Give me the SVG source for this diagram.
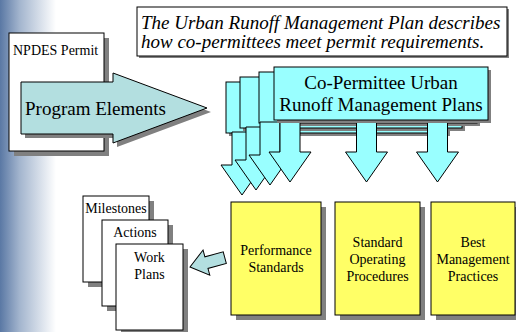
<svg xmlns="http://www.w3.org/2000/svg" width="516" height="332" viewBox="0 0 516 332" font-family="'Liberation Serif', 'DejaVu Serif', serif">
<defs>
<linearGradient id="bg" x1="0" y1="0" x2="1" y2="0">
<stop offset="0" stop-color="#5a78a4"/>
<stop offset="0.35" stop-color="#a3b5ce"/>
<stop offset="1" stop-color="#ffffff"/>
</linearGradient>
<style>
text{fill:#000}
.box{stroke:#000;stroke-width:1}
.shadow{fill:#808080}
.page{fill:#fff;stroke:#000;stroke-width:1}
.card{fill:#99ffff;stroke:#000;stroke-width:1}
.yel{fill:#ffff66;stroke:#000;stroke-width:1}
.teal{fill:#b3dfe0;stroke:#000;stroke-width:1}
.carrow{fill:#99ffff;stroke:#000;stroke-width:1;stroke-linejoin:miter}
.c{text-anchor:middle}
</style>
<path id="dn" d="M-10,0 V33 H-21 L0,63 L21,33 H10 V0 Z"/>
</defs>
<rect x="0" y="0" width="516" height="332" fill="#fff"/>
<rect x="0" y="0" width="56" height="332" fill="url(#bg)"/>

<g id="title">
<rect x="139" y="9" width="370" height="49" class="shadow"/>
<rect x="137" y="7" width="370" height="49" fill="#fff" class="box"/>
<text x="141" y="29" font-size="19" font-style="italic">The Urban Runoff Management Plan describes</text>
<text x="141" y="48" font-size="19" font-style="italic">how co-permittees meet permit requirements.</text>
</g>

<g id="npdes-permit">
<rect x="14" y="38" width="95" height="118" class="shadow"/>
<rect x="9" y="33" width="95" height="118" class="page"/>
<text x="13" y="55" font-size="14">NPDES Permit</text>
</g>

<g id="program-elements">
<path d="M25,86 H117 V77 L211,112 L117,147 V138 H25 Z" class="shadow"/>
<path d="M21,82 H113 V73 L207,108 L113,143 V134 H21 Z" class="teal"/>
<text x="25" y="115" font-size="19">Program Elements</text>
</g>

<g id="urmp-stack">
<g id="urmp-4">
<rect x="229" y="85" width="221" height="51" class="shadow"/>
<rect x="226" y="82" width="221" height="51" class="card"/>
<use href="#dn" x="242" y="132" class="carrow"/>
</g>
<g id="urmp-3">
<rect x="243" y="80" width="222" height="51" class="shadow"/>
<rect x="240" y="77" width="222" height="51" class="card"/>
<use href="#dn" x="256" y="127" class="carrow"/>
</g>
<g id="urmp-2">
<rect x="262" y="75" width="218" height="51" class="shadow"/>
<rect x="259" y="72" width="218" height="51" class="card"/>
<use href="#dn" x="270" y="122" class="carrow"/>
</g>
</g>

<g id="connectors">
<use href="#dn" x="290" y="119" class="carrow"/>
<use href="#dn" x="366.5" y="119" class="carrow"/>
<use href="#dn" x="437.5" y="119" class="carrow"/>
<path d="M0,0 L17,-13 L17,-6 L36,-6 L36,6 L17,6 L17,13 Z" transform="translate(190,267) rotate(-15)" class="teal"/>
</g>

<g id="urmp-1">
<rect x="277" y="70" width="214" height="53" class="shadow"/>
<rect x="274" y="67" width="214" height="53" class="card"/>
<text x="381" y="89" font-size="19" class="c">Co-Permittee Urban</text>
<text x="381" y="111" font-size="19" class="c">Runoff Management Plans</text>
</g>

<g id="performance-standards">
<rect x="236" y="207" width="90" height="113" class="shadow"/>
<rect x="231" y="202" width="90" height="113" class="yel"/>
<text x="276" y="255" font-size="14" class="c">Performance</text>
<text x="276" y="272" font-size="14" class="c">Standards</text>
</g>

<g id="standard-operating-procedures">
<rect x="340" y="207" width="85" height="113" class="shadow"/>
<rect x="335" y="202" width="85" height="113" class="yel"/>
<text x="377.5" y="247" font-size="14" class="c">Standard</text>
<text x="377.5" y="264" font-size="14" class="c">Operating</text>
<text x="377.5" y="281" font-size="14" class="c">Procedures</text>
</g>

<g id="best-management-practices">
<rect x="436" y="207" width="84" height="113" class="shadow"/>
<rect x="431" y="202" width="84" height="113" class="yel"/>
<text x="473" y="247" font-size="14" class="c">Best</text>
<text x="473" y="264" font-size="14" class="c">Management</text>
<text x="473" y="281" font-size="14" class="c">Practices</text>
</g>

<g id="milestones">
<rect x="88" y="201" width="66" height="86" class="shadow"/>
<rect x="83" y="196" width="66" height="86" class="page"/>
<text x="116" y="213" font-size="14" class="c">Milestones</text>
</g>

<g id="actions">
<rect x="107" y="225" width="66" height="86" class="shadow"/>
<rect x="102" y="220" width="66" height="86" class="page"/>
<text x="135" y="237" font-size="14" class="c">Actions</text>
</g>

<g id="work-plans">
<rect x="121" y="249" width="67" height="86" class="shadow"/>
<rect x="116" y="244" width="67" height="86" class="page"/>
<text x="149.5" y="262" font-size="14" class="c">Work</text>
<text x="149.5" y="279" font-size="14" class="c">Plans</text>
</g>
</svg>
